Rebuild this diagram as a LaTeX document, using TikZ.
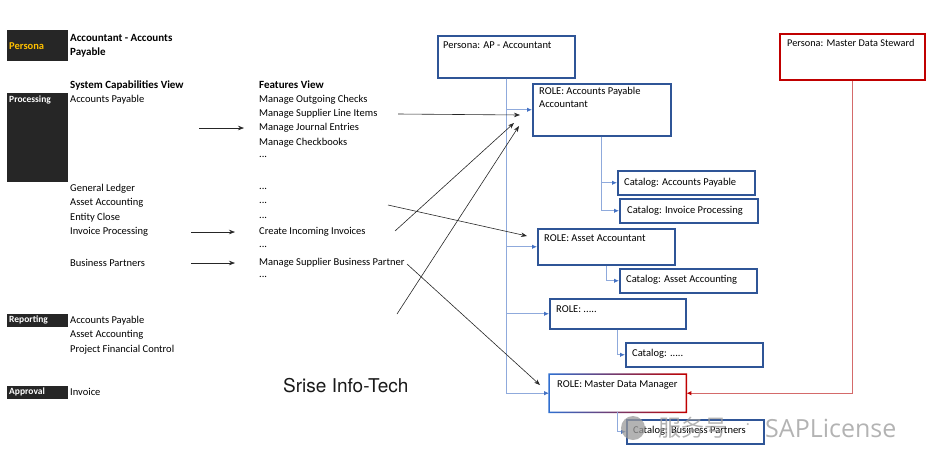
\documentclass[tikz,border=0pt]{standalone}
\usepackage{fontspec}
\setmainfont{Carlito}
\newfontfamily\heros{TeX Gyre Heros}
\newfontfamily\cjk{Noto Sans CJK SC}
\newfontfamily\wmfont{Open Sans}
\usetikzlibrary{arrows.meta}
\definecolor{boxblue}{HTML}{2F5597}
\definecolor{lblue}{HTML}{8FAADC}
\definecolor{tipblue}{HTML}{4472C4}
\definecolor{blkgray}{HTML}{262626}
\definecolor{persorange}{HTML}{FFC000}
\definecolor{dred}{HTML}{C00000}
\definecolor{lred}{HTML}{D46A6A}
\definecolor{mdmblue}{HTML}{2F6FD0}
\definecolor{wmgray}{HTML}{9A9A9A}
\tikzset{
  txt/.style={inner sep=0pt, anchor=west, font=\fontsize{10.5}{14}\selectfont},
  hd/.style={inner sep=0pt, anchor=west, font=\fontsize{11}{14}\selectfont\bfseries},
  wtxt/.style={inner sep=0pt, anchor=west, text=white, font=\fontsize{9.5}{12}\selectfont\bfseries},
  blk/.style={fill=blkgray, anchor=north west, inner sep=0pt},
  bx/.style={draw=boxblue, line width=1.5pt, anchor=north west, inner sep=0pt},
  rbx/.style={draw=dred, line width=1.5pt, anchor=north west, inner sep=0pt},
  lline/.style={draw=lblue, line width=0.9pt, -{Latex[length=5pt,width=4.5pt,color=tipblue]}},
  rline/.style={draw=lred, line width=0.9pt, -{Latex[length=5pt,width=4.5pt,color=dred]}},
  barrow/.style={draw=black!85, line width=0.6pt, -{Stealth[length=6pt,width=4.5pt]}},
}
\begin{document}
\begin{tikzpicture}[x=1pt,y=-1pt]
\useasboundingbox (0,0) rectangle (936,464);

% ---------- left column ----------
\node[blk, minimum width=61, minimum height=31] (bPersona) at (7,30) {};
\node[hd, text=persorange, font=\fontsize{10.5}{14}\selectfont\bfseries] (tPersona) at (9,46) {Persona};
\node[hd, align=left] (tAcc) at (70,46) {Accountant - Accounts\\Payable};

\node[hd] (tSysView) at (70,85) {System Capabilities View};
\node[hd] (tFeatView) at (259,85) {Features View};

\node[blk, minimum width=61, minimum height=89] (bProc) at (7,93) {};
\node[wtxt] (tProc) at (9,100) {Processing};

\node[txt] (sAP) at (70,100) {Accounts Payable};
\node[txt] (sGL) at (70,189) {General Ledger};
\node[txt] (sAA) at (70,203) {Asset Accounting};
\node[txt] (sEC) at (70,218) {Entity Close};
\node[txt] (sIP) at (70,232) {Invoice Processing};
\node[txt] (sBP) at (70,263) {Business Partners};

\node[txt] (f1) at (259,100) {Manage Outgoing Checks};
\node[txt] (f2) at (259,114) {Manage Supplier Line Items};
\node[txt] (f3) at (259,128) {Manage Journal Entries};
\node[txt] (f4) at (259,143) {Manage Checkbooks};
\node[txt] (f5) at (259,157) {...};
\node[txt] (f6) at (259,189) {...};
\node[txt] (f7) at (259,203) {...};
\node[txt] (f8) at (259,218) {...};
\node[txt] (f9) at (259,232) {Create Incoming Invoices};
\node[txt] (f10) at (259,247) {...};
\node[txt] (f11) at (259,263) {Manage Supplier Business Partner};
\node[txt] (f12) at (259,277) {...};

\node[blk, minimum width=61, minimum height=13] (bRep) at (7,314) {};
\node[wtxt] (tRep) at (9,320) {Reporting};
\node[txt] (r1) at (70,321) {Accounts Payable};
\node[txt] (r2) at (70,335) {Asset Accounting};
\node[txt] (r3) at (70,350) {Project Financial Control};

\node[blk, minimum width=61, minimum height=13] (bApp) at (7,386) {};
\node[wtxt] (tApp) at (9,392) {Approval};
\node[txt] (a1) at (70,392) {Invoice};

\node[inner sep=0pt, anchor=west, text=black!90, font=\heros\fontsize{19}{22}\selectfont] (srise) at (283,386) {Srise Info-Tech};

% ---------- right part: boxes ----------
\node[bx, minimum width=137, minimum height=42] (pap) at (437,35) {};
\node[txt, anchor=west] (papt) at ([xshift=6pt,yshift=-10pt]pap.north west) {Persona: AP - Accountant};

\node[rbx, minimum width=145, minimum height=46] (pmds) at (779,33) {};
\node[txt, font=\fontsize{10.3}{12}\selectfont] (pmdst) at ([xshift=8pt,yshift=-10pt]pmds.north west) {Persona: Master Data Steward};

\node[bx, minimum width=138, minimum height=52] (rap) at (532,83) {};
\node[txt, anchor=north west, align=left, font=\fontsize{10.5}{13}\selectfont] (rapt) at ([xshift=7pt,yshift=-4pt]rap.north west) {ROLE: Accounts Payable\\Accountant};

\node[bx, minimum width=137, minimum height=24] (cap) at (617,170) {};
\node[txt] (capt) at ([xshift=7pt]cap.west) {Catalog: Accounts Payable};
\node[bx, minimum width=138, minimum height=24] (cip) at (619,198) {};
\node[txt] (cipt) at ([xshift=8pt]cip.west) {Catalog: Invoice Processing};

\node[bx, minimum width=137, minimum height=36] (raa) at (537,228) {};
\node[txt] (raat) at ([xshift=7pt,yshift=-10pt]raa.north west) {ROLE: Asset Accountant};
\node[bx, minimum width=137, minimum height=24] (caa) at (619,268) {};
\node[txt] (caat) at ([xshift=7pt,yshift=1.5pt]caa.west) {Catalog: Asset Accounting};

\node[bx, minimum width=136, minimum height=30] (rdot) at (549,298) {};
\node[txt] (rdott) at ([xshift=7pt,yshift=-11pt]rdot.north west) {ROLE: .....};
\node[bx, minimum width=137, minimum height=24] (cdot) at (625,342) {};
\node[txt] (cdott) at ([xshift=7pt,yshift=1pt]cdot.west) {Catalog: .....};

\node[anchor=north west, inner sep=0pt, minimum width=137, minimum height=38] (rmdm) at (549,374) {};
\shade[left color=mdmblue, right color=dred, even odd rule]
  ([xshift=-0.75pt,yshift=-0.75pt]rmdm.south west) rectangle ([xshift=0.75pt,yshift=0.75pt]rmdm.north east)
  ([xshift=0.75pt,yshift=0.75pt]rmdm.south west) rectangle ([xshift=-0.75pt,yshift=-0.75pt]rmdm.north east);
\node[txt] (rmdmt) at ([xshift=8pt,yshift=-11pt]rmdm.north west) {ROLE: Master Data Manager};

\node[bx, minimum width=137, minimum height=24] (cbp) at (626,419) {};
\node[txt] (cbpt) at ([xshift=7pt,yshift=1pt]cbp.west) {Catalog: Business Partners};

% ---------- light connectors ----------
\draw[lline] (pap.south) |- (rap.west);
\draw[lline] (pap.south) |- (raa.west);
\draw[lline] (pap.south) |- (rdot.west);
\draw[lline] (pap.south) |- (rmdm.west);
\draw[lline] (rap.south) |- (cap.west);
\draw[lline] (rap.south) |- (cip.west);
\draw[lline] (raa.south) |- (caa.west);
\draw[lline] (rdot.south) |- (cdot.west);
\draw[lline] (rmdm.south) |- (cbp.west);
\draw[rline] (pmds.south) |- (rmdm.east);

% ---------- black arrows ----------
\coordinate (l1s) at (199,128); \coordinate (l1e) at (244,128);
\coordinate (l2s) at (191,232); \coordinate (l2e) at (235,232);
\coordinate (l3s) at (191,263); \coordinate (l3e) at (235,263);
\draw[barrow] (l1s) -- (l1e);
\draw[barrow] (l2s) -- (l2e);
\draw[barrow] (l3s) -- (l3e);

\coordinate (x1s) at (398,114); \coordinate (x1e) at (520,115);
\coordinate (x2s) at (395,231); \coordinate (x2e) at (514,123);
\coordinate (x3s) at (397,314); \coordinate (x3e) at (519,126);
\coordinate (x4s) at (388,205); \coordinate (x4e) at (527,236);
\coordinate (x5s) at (407,264); \coordinate (x5e) at (540,385);
\draw[barrow] (x1s) -- (x1e);
\draw[barrow] (x2s) -- (x2e);
\draw[barrow] (x3s) -- (x3e);
\draw[barrow] (x4s) -- (x4e);
\draw[barrow] (x5s) -- (x5e);

% ---------- watermark ----------
\begin{scope}[opacity=0.75]
\node[circle, fill=wmgray, minimum size=24, inner sep=0pt] (wmicon) at (633,428) {};
\node[inner sep=0pt, anchor=west, text=wmgray, font=\cjk\fontsize{23}{26}\selectfont] (wmcjk) at (658,428) {服务号};
\node[inner sep=0pt, anchor=center, text=wmgray, font=\fontsize{14}{14}\selectfont] (wmdot) at (748,426) {·};
\node[inner sep=0pt, anchor=west, text=wmgray, font=\wmfont\fontsize{25}{28}\selectfont] (wmlat) at (765,428) {SAPLicense};
\end{scope}
\end{tikzpicture}
\end{document}
